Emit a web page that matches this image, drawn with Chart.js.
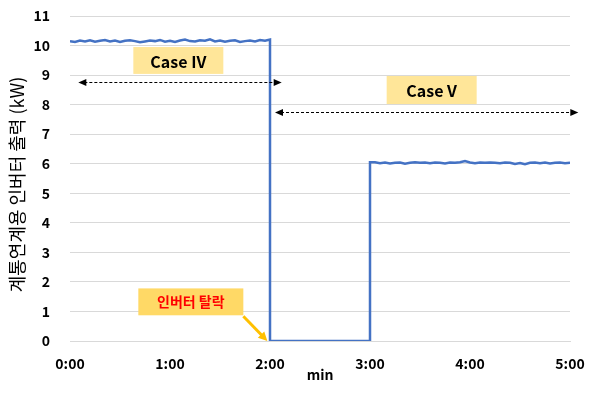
<!DOCTYPE html>
<html>
<head>
<meta charset="utf-8">
<script src="https://cdn.jsdelivr.net/npm/chart.js@4"></script>
<style>
  html, body { margin: 0; padding: 0; background: #fff; }
  #wrap { width: 598px; height: 394px; }
</style>
</head>
<body>
<div id="wrap"><canvas id="powerChart" width="598" height="394"></canvas></div>
<script>
// time in seconds (x) and inverter output in kW (y)
const seconds = [
  0,3,6,9,12,15,18,21,24,27,30,33,36,39,42,45,48,51,54,57,
  60,63,66,69,72,75,78,81,84,87,90,93,96,99,102,105,108,111,114,117,120,
  120,180,180,
  183,186,189,192,195,198,201,204,207,210,213,216,219,222,225,228,231,234,237,240,
  243,246,249,252,255,258,261,264,267,270,273,276,279,282,285,288,291,294,297,300
];
const power = [
  10.15,10.12,10.17,10.14,10.18,10.13,10.16,10.19,10.14,10.17,10.12,10.16,10.18,10.15,10.11,10.14,10.17,10.15,10.19,10.13,
  10.16,10.12,10.17,10.20,10.15,10.14,10.18,10.16,10.21,10.14,10.17,10.13,10.16,10.18,10.12,10.15,10.17,10.14,10.19,10.16,10.20,
  0,0,6.05,
  6.05,6.02,6.04,6.01,6.03,6.04,6.00,6.03,6.05,6.03,6.04,6.02,6.04,6.03,6.01,6.04,6.03,6.05,6.09,6.04,
  6.02,6.04,6.03,6.04,6.03,6.02,6.04,6.03,5.99,6.02,5.98,6.03,6.04,6.02,6.04,6.01,6.03,6.04,6.02,6.03
];
const xTicks = [0, 60, 120, 180, 240, 300];
const yTitle = '계통연계용 인버터 출력 (kW)';
const xTitle = 'min';

// annotation boxes and arrows, in data units (seconds, kW)
const caseBoxes = [
  { text: 'Case IV', x0: 38, x1: 92, y0: 9.95, y1: 9.04 },
  { text: 'Case V', x0: 190, x1: 244, y0: 8.97, y1: 8.02 }
];
const caseArrows = [
  { x0: 5, x1: 127, y: 8.78 },
  { x0: 123, x1: 305, y: 7.74 }
];
const dropNote = { text: '인버터 탈락', x0: 41, x1: 104, y0: 1.78, y1: 0.87, tipX: 119, tipY: 0 };

const FONT = '"Noto Sans CJK KR", "Noto Sans", sans-serif';

function mmss(v) {
  const m = Math.floor(v / 60);
  const s = v % 60;
  return m + ':' + String(s).padStart(2, '0');
}

const notes = {
  id: 'notes',
  afterDatasetsDraw(chart) {
    const { ctx, chartArea, scales: { x, y } } = chart;
    ctx.save();

    // y axis title, a little below the middle like the original
    ctx.save();
    ctx.translate(17, (chartArea.top + chartArea.bottom) / 2 + 6);
    ctx.rotate(-Math.PI / 2);
    ctx.fillStyle = '#000';
    ctx.font = '18px ' + FONT;
    ctx.textAlign = 'center';
    ctx.textBaseline = 'middle';
    ctx.fillText(yTitle, 0, 0);
    ctx.restore();

    // case labels
    caseBoxes.forEach(b => {
      const l = x.getPixelForValue(b.x0), r = x.getPixelForValue(b.x1);
      const t = y.getPixelForValue(b.y0), btm = y.getPixelForValue(b.y1);
      ctx.fillStyle = '#FFE699';
      ctx.fillRect(l, t, r - l, btm - t);
      ctx.fillStyle = '#000';
      ctx.font = 'bold 16px ' + FONT;
      ctx.textAlign = 'center';
      ctx.textBaseline = 'middle';
      ctx.fillText(b.text, (l + r) / 2, (t + btm) / 2 + 1);
    });

    // dashed double arrows
    caseArrows.forEach(a => {
      const l = x.getPixelForValue(a.x0), r = x.getPixelForValue(a.x1);
      const py = Math.round(y.getPixelForValue(a.y)) + 0.5;
      ctx.strokeStyle = '#000';
      ctx.lineWidth = 1;
      ctx.setLineDash([3, 2]);
      ctx.beginPath();
      ctx.moveTo(l + 6, py);
      ctx.lineTo(r - 6, py);
      ctx.stroke();
      ctx.setLineDash([]);
      ctx.fillStyle = '#000';
      ctx.beginPath();
      ctx.moveTo(l, py); ctx.lineTo(l + 8, py - 3.5); ctx.lineTo(l + 8, py + 3.5);
      ctx.closePath(); ctx.fill();
      ctx.beginPath();
      ctx.moveTo(r, py); ctx.lineTo(r - 8, py - 3.5); ctx.lineTo(r - 8, py + 3.5);
      ctx.closePath(); ctx.fill();
    });

    // inverter drop note
    const n = dropNote;
    const l = x.getPixelForValue(n.x0), r = x.getPixelForValue(n.x1);
    const t = y.getPixelForValue(n.y0), btm = y.getPixelForValue(n.y1);
    ctx.fillStyle = '#FFD966';
    ctx.fillRect(l, t, r - l, btm - t);
    ctx.fillStyle = '#FF0000';
    ctx.font = 'bold 14px ' + FONT;
    ctx.textAlign = 'center';
    ctx.textBaseline = 'middle';
    ctx.fillText(n.text, (l + r) / 2, (t + btm) / 2);

    const sx = r, sy = btm + 1;
    const ex = x.getPixelForValue(n.tipX) - 1, ey = y.getPixelForValue(n.tipY);
    const ang = Math.atan2(ey - sy, ex - sx);
    ctx.strokeStyle = '#FFC000';
    ctx.fillStyle = '#FFC000';
    ctx.lineWidth = 3;
    ctx.beginPath();
    ctx.moveTo(sx, sy);
    ctx.lineTo(ex - 7 * Math.cos(ang), ey - 7 * Math.sin(ang));
    ctx.stroke();
    ctx.beginPath();
    ctx.moveTo(ex, ey);
    ctx.lineTo(ex - 9 * Math.cos(ang) + 4.5 * Math.sin(ang), ey - 9 * Math.sin(ang) - 4.5 * Math.cos(ang));
    ctx.lineTo(ex - 9 * Math.cos(ang) - 4.5 * Math.sin(ang), ey - 9 * Math.sin(ang) + 4.5 * Math.cos(ang));
    ctx.closePath();
    ctx.fill();

    ctx.restore();
  }
};

new Chart(document.getElementById('powerChart'), {
  type: 'line',
  data: {
    datasets: [{
      data: seconds.map((s, i) => ({ x: s, y: power[i] })),
      borderColor: '#4472C4',
      borderWidth: 2.5,
      pointRadius: 0,
      tension: 0,
      fill: false
    }]
  },
  options: {
    responsive: false,
    animation: false,
    layout: { padding: { top: 0, right: 28, bottom: 0, left: 0 } },
    plugins: { legend: { display: false }, tooltip: { enabled: false } },
    scales: {
      x: {
        type: 'linear',
        min: 0, max: 300,
        afterBuildTicks: s => { s.ticks = xTicks.map(v => ({ value: v })); },
        afterFit: s => { s.height = 53; },
        grid: { display: false },
        border: { color: '#D9D9D9' },
        ticks: {
          callback: v => mmss(v),
          color: '#000',
          padding: 6,
          maxRotation: 0,
          font: { family: FONT, size: 14, weight: 'bold' }
        },
        title: {
          display: true, text: xTitle, color: '#000',
          padding: { top: 0, bottom: 11 },
          font: { family: FONT, size: 14, weight: 'bold' }
        }
      },
      y: {
        min: 0, max: 11,
        // tick padding would otherwise push the plot top down
        afterFit: s => { s.width = 70; s.paddingTop = 16; },
        grid: { color: '#D9D9D9', drawTicks: false },
        border: { display: false },
        ticks: {
          stepSize: 1,
          color: '#000',
          padding: 20,
          font: { family: FONT, size: 14, weight: 'bold' }
        }
      }
    }
  },
  plugins: [notes]
});
</script>
</body>
</html>
